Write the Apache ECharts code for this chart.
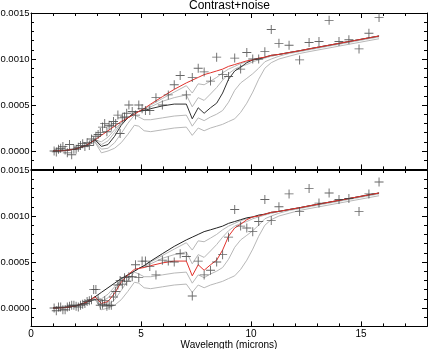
<!DOCTYPE html>
<html>
<head>
<meta charset="utf-8">
<script src="https://cdn.jsdelivr.net/npm/echarts@6/dist/echarts.min.js"></script>
<style>
  html, body { margin: 0; padding: 0; background: #fff; }
  #chart { width: 429px; height: 349px; }
</style>
</head>
<body>
<div id="chart"></div>
<script>
// wavelengths of the model curves (microns)
var lineLam = [1.0,1.5,2.0,2.5,2.9,3.2,3.5,3.8,4.1,4.4,
    4.7,4.9,5.14,5.44,5.97,6.51,7.06,7.33,7.6,7.87,
    8.16,8.44,8.71,8.98,9.26,9.53,9.81,10.08,10.35,10.63,
    10.92,11.27,11.73,12.21,12.64,13.09,13.55,14.0,14.45,14.91,
    15.36,15.82];

// smooth model (red on top, black below)
var model = [0,0.000004,0.00002,0.00006,0.00012,0.00017,0.00022,0.00027,0.00032,0.00036,
    0.0004,0.00043,0.00046,0.00051,0.00059,0.00067,0.00074,0.00077,0.0008,0.00083,
    0.00085,0.00087,0.00089,0.00092,0.00094,0.00096,0.00098,0.00099,0.00101,0.00102,
    0.00104,0.00105,0.00107,0.00109,0.00111,0.00113,0.00115,0.00117,0.00119,0.00121,
    0.00123,0.00125];

// highlighted curve (black on top, red below)
var curveMid = [0,0.000004,0.00002,0.00006,0.00012,0.00005,0.00007,0.00016,0.00028,0.00036,
    0.00042,0.00043,0.00044,0.00046,0.00049,0.00051,0.00051,0.00035,0.00047,0.00041,
    0.00047,0.00052,0.00063,0.00078,0.00087,0.00091,0.00096,0.00099,0.001,0.00102,
    0.00104,0.00105,0.00107,0.00109,0.00111,0.00113,0.00115,0.00117,0.00119,0.00121,
    0.00123,0.00125];

// grey family
var curveA = [0,0.000004,0.00002,0.00006,0.00012,0.0001,0.00015,0.00023,0.00031,0.00036,
    0.0004,0.00043,0.00046,0.0005,0.00057,0.00064,0.00071,0.00063,0.00073,0.00072,
    0.00076,0.0008,0.00085,0.00089,0.00092,0.00095,0.00097,0.00099,0.001,0.00102,
    0.00103,0.00105,0.00107,0.00109,0.00111,0.00113,0.00115,0.00117,0.00119,0.00121,
    0.00123,0.00125];
var curveB = [0,0.000004,0.00002,0.00006,0.00012,0.00007,0.00011,0.0002,0.0003,0.00036,
    0.0004,0.00043,0.00045,0.00048,0.00054,0.00058,0.00061,0.00048,0.00058,0.00055,
    0.00062,0.00069,0.00077,0.00084,0.00089,0.00092,0.00094,0.00097,0.00099,0.00101,
    0.00103,0.00105,0.00107,0.00109,0.00111,0.00113,0.00115,0.00117,0.00119,0.00121,
    0.00123,0.00125];
var curveC = [0,0.000004,0.00002,0.00005,0.0001,0.00002,0.00003,0.00009,0.00019,0.0003,
    0.00039,0.00037,0.00034,0.00034,0.00036,0.00038,0.00039,0.00027,0.00036,0.00033,
    0.00037,0.0004,0.00044,0.00053,0.00066,0.00074,0.00079,0.00084,0.0009,0.00097,
    0.001,0.00103,0.00106,0.00108,0.0011,0.00112,0.00114,0.00116,0.00118,0.0012,
    0.00122,0.00124];
var curveD = [0,0.000004,0.00002,0.00005,0.0001,-0.00002,0.0,0.00003,0.00009,0.00018,
    0.00028,0.00027,0.00022,0.00021,0.00023,0.00025,0.00026,0.00017,0.00025,0.00022,
    0.00025,0.00027,0.00029,0.00032,0.00035,0.00042,0.00052,0.00064,0.00078,0.0009,
    0.00096,0.001,0.00103,0.00106,0.00108,0.0011,0.00112,0.00114,0.00116,0.00118,
    0.0012,0.00122];

// measured points
var markLam = [1.05,1.15,1.25,1.35,1.45,1.55,1.65,1.75,1.85,1.95,
    2.05,2.15,2.25,2.35,2.45,2.55,2.65,2.75,2.85,2.95,
    3.05,3.15,3.25,3.35,3.45,3.55,3.65,3.75,3.85,3.95,
    4.05,4.15,4.25,4.35,4.45,4.6,4.75,4.9,5.05,5.2,
    5.4,5.68,5.97,6.24,6.51,6.78,7.06,7.33,7.6,7.87,
    8.16,8.44,8.71,8.98,9.26,9.53,9.81,10.08,10.35,10.63,
    10.92,11.27,11.73,12.21,12.64,13.09,13.55,14.0,14.45,14.91,
    15.36,15.82];
var dataTop = [0,-0.00001,0.00002,0.00003,0.00005,0.00001,-0.00002,0.00007,-0.00004,0.00002,
    0.00002,0.00004,0.00006,0.00008,0.00005,0.00009,0.00006,0.00013,0.00011,0.00016,
    0.00018,0.0002,0.00026,0.0003,0.00021,0.00028,0.00027,0.00032,0.0003,0.00039,
    0.00019,0.00036,0.00037,0.00041,0.0005,0.00043,0.00039,0.0005,0.00046,0.00044,
    0.00044,0.00058,0.0005,0.00061,0.00072,0.00082,0.00061,0.0008,0.0009,0.00086,
    0.00076,0.00102,0.00083,0.00081,0.00101,0.00089,0.00107,0.001,0.001,0.00108,
    0.00132,0.00117,0.00115,0.00099,0.00118,0.00119,0.00142,0.00119,0.00121,0.00111,
    0.00128,0.00145];
var dataBot = [0,-0.00003,0.00001,0.00001,-0.00002,-0.00002,0.00001,0.00002,0.00003,0.00003,
    0.00002,0.00001,0.00003,0.00004,0.00005,0.00007,0.00008,0.00009,0.0002,0.0002,
    0.00009,0.00003,0.00004,0.00008,0.00002,0.00003,0.00003,0.00012,0.00018,0.00025,
    0.0003,0.00026,0.00033,0.00029,0.00034,0.00034,0.00047,0.00033,0.00051,0.00051,
    0.00045,0.00036,0.00052,0.00051,0.0005,0.00059,0.00056,0.00013,0.00051,0.00036,
    0.00041,0.0005,0.00058,0.00077,0.00107,0.00089,0.00087,0.00083,0.00094,0.00118,
    0.00095,0.0011,0.00124,0.00105,0.0013,0.00114,0.00125,0.00118,0.00119,0.00105,
    0.00124,0.00137];

// tick positions
var xMajor = [0, 5, 10, 15];
var xMinor = [1,2,3,4,6,7,8,9,11,12,13,14,16,17];
var yMajor = [0, 0.0005, 0.001, 0.0015];
var yMinor = [-0.0001,0.0001,0.0002,0.0003,0.0004,0.0006,0.0007,0.0008,0.0009,
    0.0011,0.0012,0.0013,0.0014];

var FONT = 'Liberation Sans, Arial, sans-serif';

function pairs(xs, ys) {
    return xs.map(function (x, i) { return [x, ys[i]]; });
}

function xAxes(g) {
    var list = [];
    ['bottom', 'top'].forEach(function (pos) {
        [true, false].forEach(function (major) {
            list.push({
                gridIndex: g, type: 'value', min: 0, max: 18, position: pos,
                axisLine: { show: major, onZero: false, lineStyle: { color: '#000', width: 1 } },
                axisTick: { show: true, inside: true, length: major ? 5 : 3,
                    customValues: major ? xMajor : xMinor, lineStyle: { color: '#000' } },
                axisLabel: { show: major && pos === 'bottom' && g === 1, customValues: xMajor,
                    margin: 3, color: '#000', fontSize: 10, fontFamily: FONT },
                splitLine: { show: false },
                name: (major && pos === 'bottom' && g === 1) ? 'Wavelength (microns)' : '',
                nameLocation: 'middle', nameGap: 9,
                nameTextStyle: { color: '#000', fontSize: 10, fontFamily: FONT }
            });
        });
    });
    return list;
}

function yAxes(g) {
    var list = [];
    ['left', 'right'].forEach(function (pos) {
        [true, false].forEach(function (major) {
            list.push({
                gridIndex: g, type: 'value', min: -0.0002, max: 0.0015, position: pos,
                axisLine: { show: major, onZero: false, lineStyle: { color: '#000', width: 1 } },
                axisTick: { show: true, inside: true, length: major ? 5 : 3,
                    customValues: major ? yMajor : yMinor, lineStyle: { color: '#000' } },
                axisLabel: { show: major && pos === 'left', customValues: yMajor, margin: 1.5,
                    color: '#000', fontSize: 9.5, fontFamily: FONT,
                    formatter: function (v) { return v.toFixed(4); } },
                splitLine: { show: false }
            });
        });
    });
    return list;
}

function line(g, ys, color, z) {
    return {
        type: 'line', xAxisIndex: g * 4, yAxisIndex: g * 4, data: pairs(lineLam, ys),
        symbol: 'none', z: z, lineStyle: { color: color, width: 1 }, silent: true
    };
}

function crosses(g, ys) {
    return {
        type: 'scatter', xAxisIndex: g * 4, yAxisIndex: g * 4, data: pairs(markLam, ys),
        symbol: 'path://M4.5,0H5.5V10H4.5ZM0,4.5H10V5.5H0Z', symbolSize: 9, z: 10,
        itemStyle: { color: '#404040' }
    };
}

var GREY = '#b8b8b8';
var RED = '#e2322c';

var chart = echarts.init(document.getElementById('chart'), null, { renderer: 'canvas' });
chart.setOption({
    animation: false,
    backgroundColor: '#fff',
    title: {
        text: 'Contrast+noise', left: 189, top: 0, padding: 0,
        textStyle: { color: '#000', fontSize: 12, fontWeight: 'normal', fontFamily: FONT }
    },
    grid: [
        { left: 31, right: 2, top: 13, height: 156.4, containLabel: false, outerBoundsMode: 'none' },
        { left: 31, right: 2, top: 170, height: 156.4, containLabel: false, outerBoundsMode: 'none' }
    ],
    xAxis: xAxes(0).concat(xAxes(1)),
    yAxis: yAxes(0).concat(yAxes(1)),
    series: [
        line(0, curveA, GREY, 2), line(0, curveB, GREY, 2),
        line(0, curveC, GREY, 2), line(0, curveD, GREY, 2),
        line(0, curveMid, '#333', 3), line(0, model, RED, 4),
        crosses(0, dataTop),
        line(1, curveA, GREY, 2), line(1, curveB, GREY, 2),
        line(1, curveC, GREY, 2), line(1, curveD, GREY, 2),
        line(1, model, '#222', 3), line(1, curveMid, RED, 4),
        crosses(1, dataBot)
    ]
});
</script>
</body>
</html>
